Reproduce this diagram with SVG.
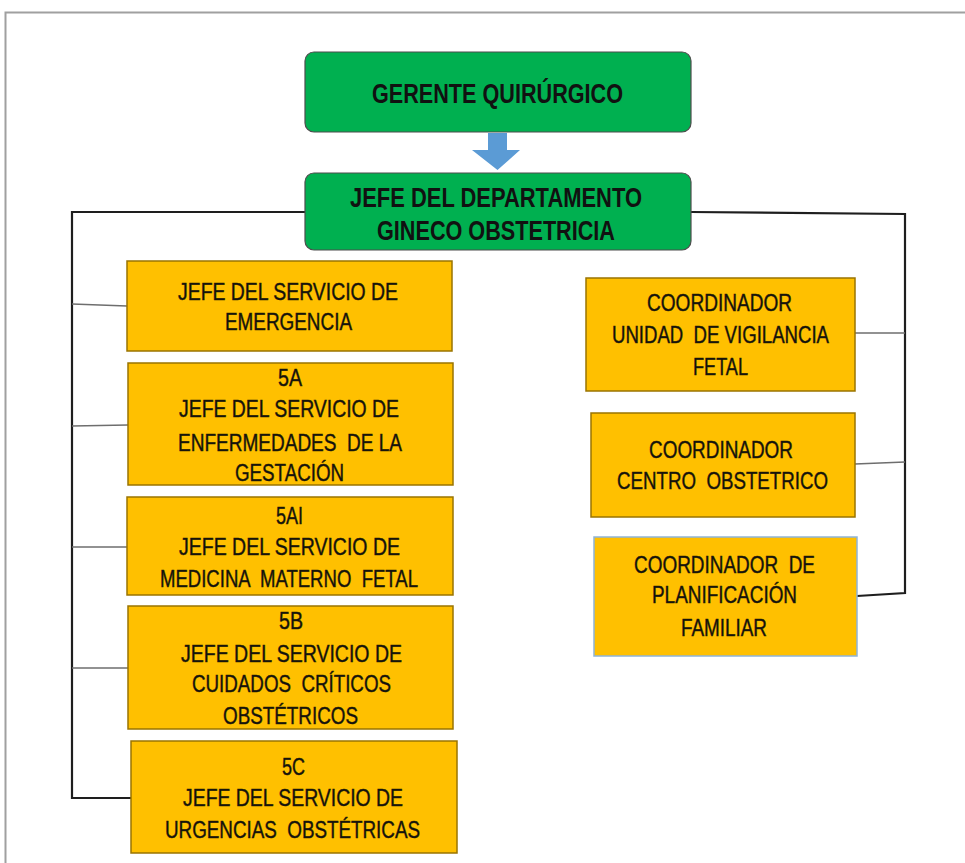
<svg xmlns="http://www.w3.org/2000/svg" width="965" height="863" viewBox="0 0 965 863">
  <style>
    .frame { fill: none; stroke: #a0a0a0; stroke-width: 2; }
    .green { fill: #00B050; stroke: #4d4d4d; stroke-width: 1.2; }
    .yellow { fill: #FFC000; stroke: #9a7400; stroke-width: 1.5; }
    .trunk { fill: none; stroke: #1e1e1e; stroke-width: 2.2; }
    .branch { fill: none; stroke: #6e6e6e; stroke-width: 1.6; }
    .arrow { fill: #5B9BD5; }
    text { font-family: "Liberation Sans", Arial, sans-serif; text-anchor: middle; fill: #111; white-space: pre; }
    .tg { font-size: 27px; font-weight: bold; }
    .ty { font-size: 23.5px; stroke: #2a2000; stroke-width: 0.45; }
  </style>

  <!-- page frame -->
  <path class="frame" d="M5.5,863 V12.5 H965"/>

  <!-- connectors -->
  <g id="connectors">
    <path class="arrow" d="M488,133 H507 V150 H520 L497.5,170 L472,150 H488 Z"/>
    <path class="trunk" d="M305,212 H72 V798 H131"/>
    <path class="branch" d="M72,304 L127,306"/>
    <path class="branch" d="M72,426 L128,425"/>
    <path class="branch" d="M72,547 H127"/>
    <path class="branch" d="M72,668 H128"/>
    <path class="trunk" d="M691,212 L905,214 V593 L857,596"/>
    <path class="branch" d="M855,333 H905"/>
    <path class="branch" d="M855,464 L905,462"/>
  </g>

  <g id="gerente">
    <rect class="green" x="305" y="52" width="386" height="80" rx="9"/>
    <text class="tg" x="497.5" y="103" textLength="251" lengthAdjust="spacingAndGlyphs">GERENTE QUIRÚRGICO</text>
  </g>

  <g id="jefe-departamento">
    <rect class="green" x="305" y="173" width="386" height="77" rx="9"/>
    <text class="tg" x="496" y="207" textLength="292" lengthAdjust="spacingAndGlyphs">JEFE DEL DEPARTAMENTO</text>
    <text class="tg" x="496" y="240" textLength="238" lengthAdjust="spacingAndGlyphs">GINECO OBSTETRICIA</text>
  </g>

  <g id="emergencia">
    <rect class="yellow" x="127" y="261" width="325" height="90"/>
    <text class="ty" x="288" y="300" textLength="220" lengthAdjust="spacingAndGlyphs">JEFE DEL SERVICIO DE</text>
    <text class="ty" x="288.5" y="330" textLength="127" lengthAdjust="spacingAndGlyphs">EMERGENCIA</text>
  </g>

  <g id="s5a">
    <rect class="yellow" x="128" y="363" width="325" height="122"/>
    <text class="ty" x="290" y="386" textLength="24" lengthAdjust="spacingAndGlyphs">5A</text>
    <text class="ty" x="289" y="417" textLength="220" lengthAdjust="spacingAndGlyphs">JEFE DEL SERVICIO DE</text>
    <text class="ty" x="290" y="451" textLength="224" lengthAdjust="spacingAndGlyphs">ENFERMEDADES  DE LA</text>
    <text class="ty" x="289.5" y="481" textLength="109" lengthAdjust="spacingAndGlyphs">GESTACIÓN</text>
  </g>

  <g id="s5ai">
    <rect class="yellow" x="127" y="497" width="326" height="98"/>
    <text class="ty" x="289.5" y="524" textLength="27" lengthAdjust="spacingAndGlyphs">5AI</text>
    <text class="ty" x="289.5" y="555" textLength="221" lengthAdjust="spacingAndGlyphs">JEFE DEL SERVICIO DE</text>
    <text class="ty" x="289" y="587" textLength="258" lengthAdjust="spacingAndGlyphs">MEDICINA  MATERNO  FETAL</text>
  </g>

  <g id="s5b">
    <rect class="yellow" x="128" y="606" width="325" height="123"/>
    <text class="ty" x="291" y="629" textLength="24" lengthAdjust="spacingAndGlyphs">5B</text>
    <text class="ty" x="291.5" y="662" textLength="221" lengthAdjust="spacingAndGlyphs">JEFE DEL SERVICIO DE</text>
    <text class="ty" x="291.5" y="692" textLength="199" lengthAdjust="spacingAndGlyphs">CUIDADOS  CRÍTICOS</text>
    <text class="ty" x="290.5" y="724" textLength="135" lengthAdjust="spacingAndGlyphs">OBSTÉTRICOS</text>
  </g>

  <g id="s5c">
    <rect class="yellow" x="131" y="741" width="326" height="112"/>
    <text class="ty" x="293.5" y="775" textLength="23" lengthAdjust="spacingAndGlyphs">5C</text>
    <text class="ty" x="293" y="806" textLength="220" lengthAdjust="spacingAndGlyphs">JEFE DEL SERVICIO DE</text>
    <text class="ty" x="292.5" y="838" textLength="255" lengthAdjust="spacingAndGlyphs">URGENCIAS  OBSTÉTRICAS</text>
  </g>

  <g id="vigilancia-fetal">
    <rect class="yellow" x="586" y="278" width="269" height="113"/>
    <text class="ty" x="719.5" y="311" textLength="145" lengthAdjust="spacingAndGlyphs">COORDINADOR</text>
    <text class="ty" x="720.5" y="343" textLength="217" lengthAdjust="spacingAndGlyphs">UNIDAD  DE VIGILANCIA</text>
    <text class="ty" x="720.5" y="375" textLength="55" lengthAdjust="spacingAndGlyphs">FETAL</text>
  </g>

  <g id="centro-obstetrico">
    <rect class="yellow" x="591" y="413" width="264" height="104"/>
    <text class="ty" x="721" y="458" textLength="144" lengthAdjust="spacingAndGlyphs">COORDINADOR</text>
    <text class="ty" x="722.5" y="489" textLength="211" lengthAdjust="spacingAndGlyphs">CENTRO  OBSTETRICO</text>
  </g>

  <g id="planificacion-familiar">
    <rect class="yellow" x="594" y="537" width="263" height="119" style="stroke:#8fb4d8"/>
    <text class="ty" x="724.5" y="573" textLength="181" lengthAdjust="spacingAndGlyphs">COORDINADOR  DE</text>
    <text class="ty" x="724.5" y="603" textLength="145" lengthAdjust="spacingAndGlyphs">PLANIFICACIÓN</text>
    <text class="ty" x="724" y="636" textLength="86" lengthAdjust="spacingAndGlyphs">FAMILIAR</text>
  </g>
</svg>
